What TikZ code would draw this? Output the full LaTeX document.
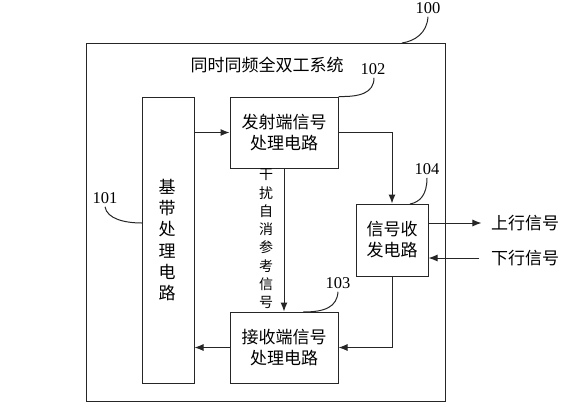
\documentclass[tikz,border=0pt]{standalone}
\usepackage{fontspec}
\setmainfont{Liberation Serif}
\newfontfamily\cjk{Noto Sans CJK SC}
\usetikzlibrary{arrows.meta}
\begin{document}
\begin{tikzpicture}[x=1pt,y=-1pt,
    box/.style={draw=black!85,line width=1pt,inner sep=0pt},
    zh/.style={font=\cjk\fontsize{17}{21}\selectfont,align=center},
    num/.style={font=\fontsize{16.5}{18}\selectfont,inner sep=0pt},
    sig/.style={line width=1pt,draw=black!85,-{Latex[length=9pt,width=7pt]}},
    lead/.style={line width=1pt,draw=black!85}]
  \useasboundingbox (0,0) rectangle (572,413);

  % boxes
  \node[box,minimum width=359pt,minimum height=358pt] (sys) at (265.5,222) {};
  \node[zh] (title) at (267,65) {同时同频全双工系统};
  \node[box,minimum width=52pt,minimum height=286pt] (b101) at (168,240) {};
  \node[zh,font=\cjk\fontsize{17}{21.2}\selectfont] (t101) at (167,240) {基\\带\\处\\理\\电\\路};
  \node[box,zh,minimum width=108pt,minimum height=71pt] (b102) at (284,132.5) {发射端信号\\处理电路};
  \node[box,zh,minimum width=108pt,minimum height=71pt] (b103) at (284,347.5) {接收端信号\\处理电路};
  \node[box,zh,minimum width=72pt,minimum height=72pt] (b104) at (392,240) {信号收\\发电路};

  % signals
  \draw[sig] (b101.east |- b102.west) -- (b102.west);
  \draw[sig] (b102.east) -| (b104.north);
  \draw[sig] (b102.south) -- (b103.north);
  \node[zh,font=\cjk\fontsize{14}{18.3}\selectfont] (ref) at (266,239) {干\\扰\\自\\消\\参\\考\\信\\号};
  \draw[sig] (b104.south) |- (b103.east);
  \draw[sig] (b103.west) -- (b101.east |- b103.west);

  \node[zh] (up) at (525,223) {上行信号};
  \node[zh] (down) at (525,258) {下行信号};
  \draw[sig,shorten >=6pt] (b104.east |- up.west) -- (up.west);
  \draw[sig] (down.west) ++(-8,0) coordinate (d0) -- (b104.east |- d0);

  % reference numbers
  \node[num] (l100) at (428,8) {100};
  \node[num] (l101) at (105,198) {101};
  \node[num] (l102) at (373,69) {102};
  \node[num] (l103) at (338,283) {103};
  \node[num] (l104) at (427,169) {104};
  \coordinate (e100) at (402,43);
  \coordinate (e101) at (142,223);
  \coordinate (e103) at (303,312);
  \coordinate (e104) at (410,204);
  \draw[lead] (l100.south) ++(0,3) .. controls (427,33) and (415,41) .. (e100);
  \draw[lead] (l101.south) ++(0,3) .. controls (107,219) and (125,223) .. (e101);
  \draw[lead] (l102.south) ++(1,3) .. controls (374,93) and (360,97) .. (b102.north east);
  \draw[lead] (l103.south) ++(0,3) .. controls (337,307) and (325,312) .. (e103);
  \draw[lead] (l104.south) ++(0,3) .. controls (427,195) and (420,202) .. (e104);
\end{tikzpicture}
\end{document}
